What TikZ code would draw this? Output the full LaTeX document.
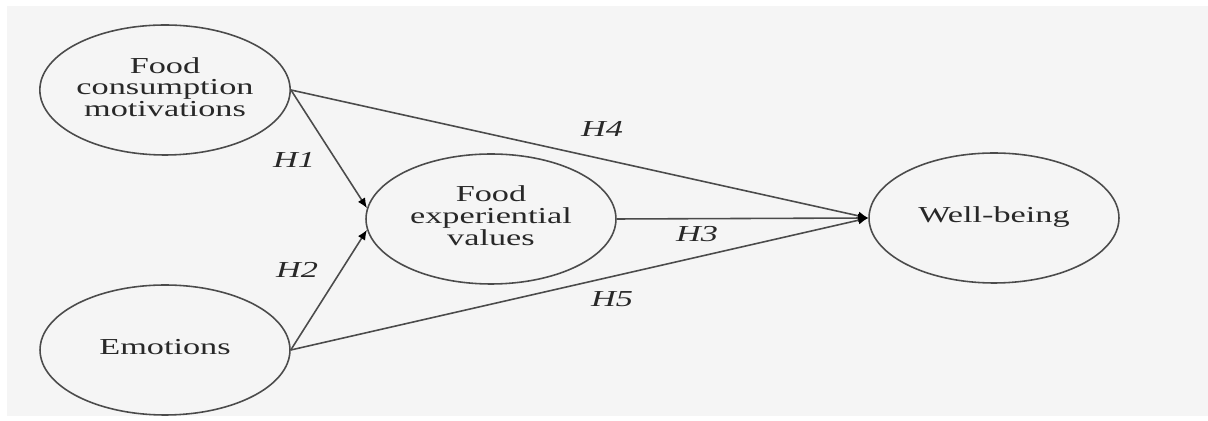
\documentclass[tikz,border=0pt]{standalone}
\usepackage{fontspec}
\setmainfont{Liberation Serif}
\usetikzlibrary{shapes.geometric,arrows.meta}
\definecolor{fond}{RGB}{245,245,245}
\definecolor{trait}{RGB}{75,75,75}
\definecolor{texte}{RGB}{40,40,40}
\newcommand{\etire}[1]{\scalebox{1.5}[1]{\begin{tabular}{@{}c@{}}#1\end{tabular}}}

\begin{document}
\begin{tikzpicture}[x=0.02cm,y=-0.02cm,
  var/.style={draw=trait,line width=0.9pt,ellipse,minimum width=5cm,
    minimum height=2.6cm,inner sep=0pt,text=texte,
    font=\fontsize{13}{12}\selectfont},
  hyp/.style={text=texte,inner sep=0pt,font=\fontsize{13}{13}\selectfont\itshape},
  fleche/.style={draw=trait,line width=0.9pt,
    -{Latex[length=2mm,width=1.7mm,color=black]}}]

\useasboundingbox (0,0) rectangle (1208,421);
\fill[fond] (7,6) rectangle (1208,416);

\node[var] (motiv) at (165,90) {\etire{Food\\consumption\\motivations}};
\node[var] (emo) at (165,350) {\etire{Emotions}};
\node[var] (valeur) at (491,219) {\etire{Food\\experiential\\values}};
\node[var] (bien) at (994,218) {\etire{Well-being}};

\draw[fleche] (motiv.east) -- (valeur.175);
\draw[fleche] (emo.east) -- (valeur.185);
\draw[fleche] (motiv.east) -- (bien.west);
\draw[fleche] (valeur.east) -- (bien.west);
\draw[fleche] (emo.east) -- (bien.west);

\node[hyp] (h1) at (294,163) {\etire{H1}};
\node[hyp] (h2) at (297,273) {\etire{H2}};
\node[hyp] (h4) at (602,132) {\etire{H4}};
\node[hyp] (h3) at (697,237) {\etire{H3}};
\node[hyp] (h5) at (612,302) {\etire{H5}};

\end{tikzpicture}
\end{document}
